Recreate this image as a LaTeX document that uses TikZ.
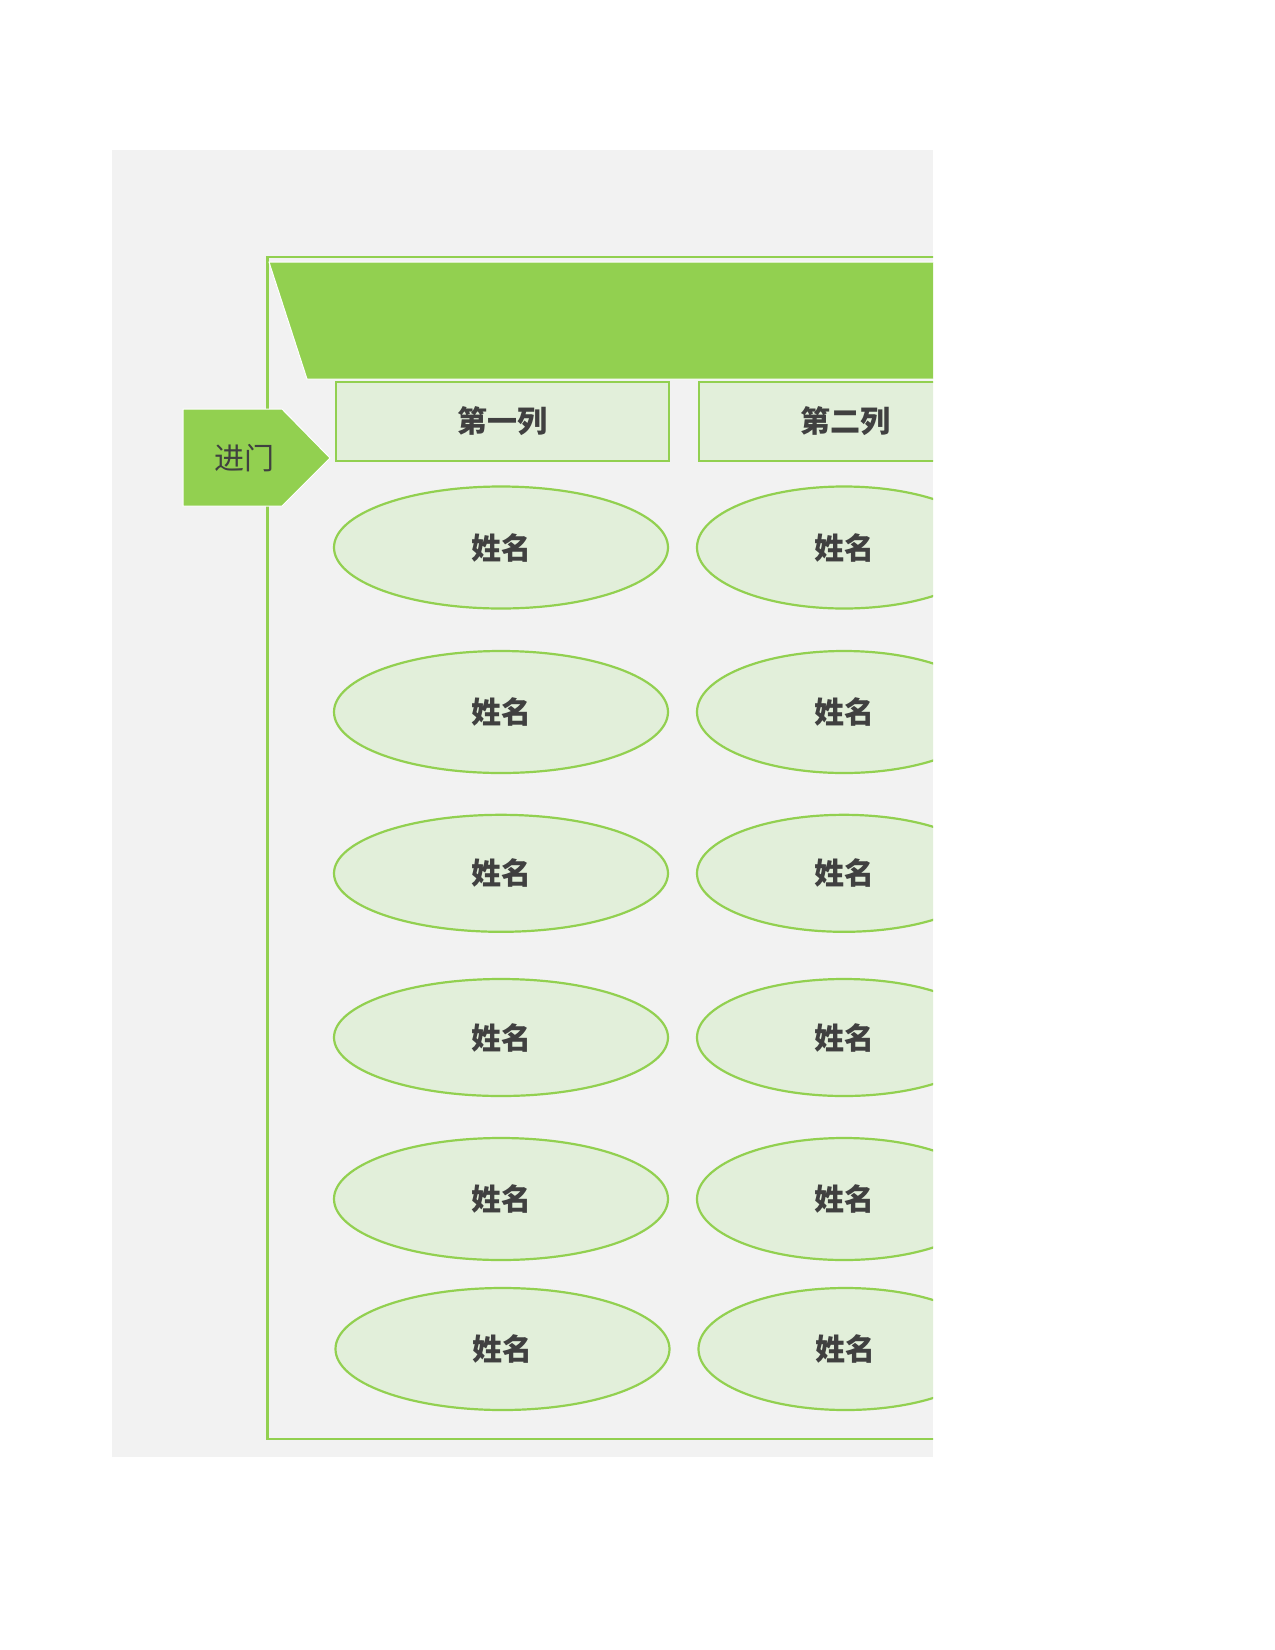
\documentclass[tikz,border=0pt]{standalone}
\usepackage{fontspec}
\newfontfamily\cjk{Noto Sans CJK SC}
\usetikzlibrary{shapes.geometric}
\definecolor{leaf}{RGB}{146,208,80}
\definecolor{mint}{RGB}{226,239,218}
\definecolor{sheetgray}{RGB}{242,242,242}
\definecolor{ink}{RGB}{64,64,64}

\begin{document}
\begin{tikzpicture}[x=0.5pt,y=0.5pt,yscale=-1,xscale=1,
    seat/.style={ellipse,draw=leaf,fill=mint,line width=1.1pt,inner sep=0pt,text=ink,font=\cjk\bfseries\fontsize{15}{18}\selectfont},
    colhead/.style={rectangle,draw=leaf,fill=mint,line width=1.1pt,inner sep=0pt,minimum height=39.5pt,text=ink,font=\cjk\bfseries\fontsize{15}{18}\selectfont}]
\useasboundingbox (0,0) rectangle (1275,1650);
%Sheet background
\fill[sheetgray] (112,150) rectangle (933,1457);
\begin{scope}
\clip (112,150) rectangle (933,1457);
%Outline of the room
\draw[leaf,line width=1.1pt] (267.5,257) rectangle (1010,1439);
%Banner
\filldraw[fill=leaf,draw=white,line width=0.5pt] (269,262) -- (1010,262) -- (1010,379) -- (307,379) -- cycle;
%Door
\filldraw[fill=leaf,draw=white,line width=0.5pt] (183,409) -- (282,409) -- (330,458) -- (282,506) -- (183,506) -- cycle;
\node[text=ink,font=\cjk\fontsize{15}{18}\selectfont] (door) at (244,458) {进门};
%Column heads
\node[colhead,minimum width=166.5pt] (colA) at (502.5,421.5) {第一列};
\node[colhead,minimum width=146pt] (colB) at (845,421.5) {第二列};
%Seats
\foreach \y/\h/\d [count=\i from 1] in {547.5/122/0,712/122/0,873.3/117/0,1037.5/117/0,1199/122/0,1349/122/1.5}{
  \node[seat,minimum width=167pt,minimum height=\h*0.5pt] (a\i) at (501+\d,\y) {姓名};
  \node[seat,minimum width=147pt,minimum height=\h*0.5pt] (b\i) at (844+\d,\y) {姓名};
}
\end{scope}
\end{tikzpicture}
\end{document}
